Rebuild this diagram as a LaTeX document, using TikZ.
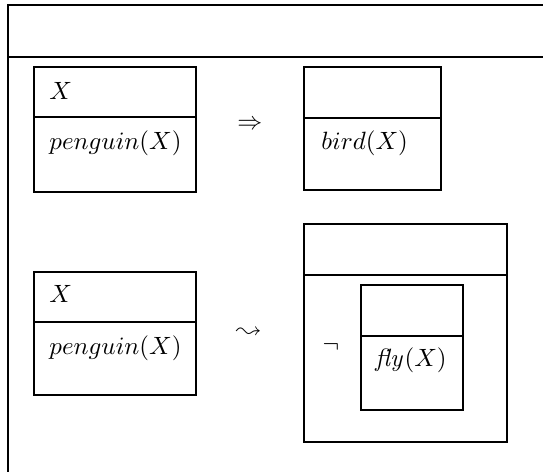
\documentclass[tikz,border=0pt]{standalone}
\usepackage{latexsym}
\begin{document}
\begin{tikzpicture}[x=0.4pt,y=-0.4pt,
  cell/.style={draw,line width=1.05pt,inner sep=0pt,outer sep=0pt,anchor=north west,rectangle},
  lbl/.style={inner sep=0pt,anchor=base west},
  frame/.style={line width=0.9pt}]
\useasboundingbox (0,0) rectangle (543,472);
\begin{scope}
\clip (0,0) rectangle (543,472);
\draw[frame] (8,480) -- (8,5) -- (560,5);
\draw[frame] (8,57) -- (560,57);
\end{scope}
% box A1
\node[cell,minimum width=64.8pt,minimum height=20pt] (a1t) at (34,67) {};
\node[cell,minimum width=64.8pt,minimum height=30pt] (a1b) at (34,117) {};
\node[lbl] (a1x) at (49,100) {$X$};
\node[lbl] (a1p) at (49,150) {$penguin(X)$};
% implies
\node[inner sep=0pt] (imp) at (250,125) {$\Rightarrow$};
% box B1
\node[cell,minimum width=54.8pt,minimum height=20.4pt] (b1t) at (304,67) {};
\node[cell,minimum width=54.8pt,minimum height=28.8pt] (b1b) at (304,118) {};
\node[lbl] (b1p) at (321,150) {$bird(X)$};
% box A2
\node[cell,minimum width=64.8pt,minimum height=20pt] (a2t) at (34,272) {};
\node[cell,minimum width=64.8pt,minimum height=29.2pt] (a2b) at (34,322) {};
\node[lbl] (a2x) at (49,303) {$X$};
\node[lbl] (a2p) at (49,355) {$penguin(X)$};
% leadsto
\node[inner sep=0pt] (lt) at (249,333) {$\leadsto$};
% box B2 outer
\node[cell,minimum width=81.2pt,minimum height=20.4pt] (b2t) at (304,224) {};
\node[cell,minimum width=81.2pt,minimum height=66.8pt] (b2b) at (304,275) {};
\node[inner sep=0pt] (neg) at (331,347) {$\neg$};
% inner box
\node[cell,minimum width=40.8pt,minimum height=20.4pt] (ct) at (361,285) {};
\node[cell,minimum width=40.8pt,minimum height=29.6pt] (cb) at (361,336) {};
\node[lbl] (cp) at (375,367) {$\mathit{fly}(X)$};
\end{tikzpicture}
\end{document}
